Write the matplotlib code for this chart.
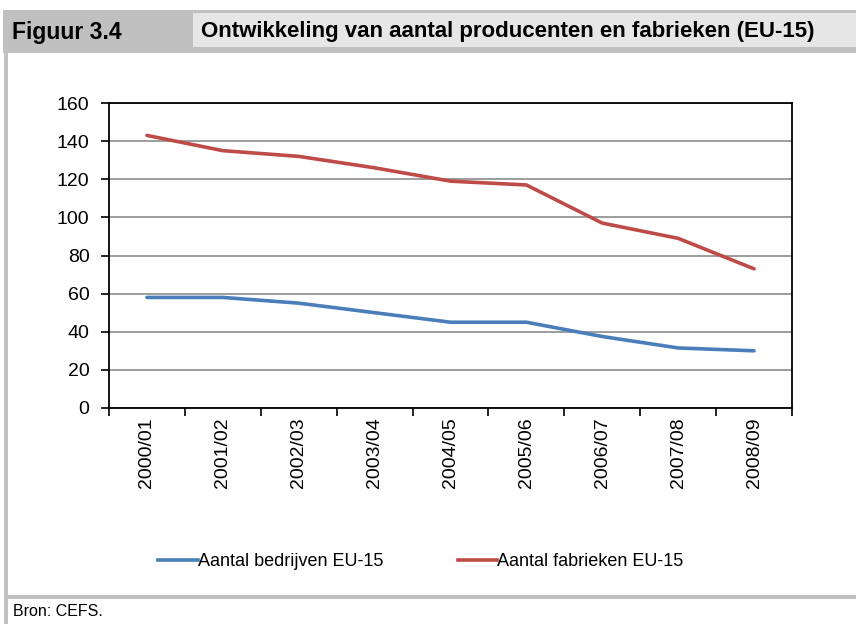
import matplotlib
matplotlib.use("Agg")
import matplotlib.pyplot as plt
from matplotlib.patches import Rectangle
from matplotlib.lines import Line2D

plt.rcParams['font.family'] = ['Liberation Sans', 'DejaVu Sans']

# data
seizoenen = ['2000/01', '2001/02', '2002/03', '2003/04', '2004/05',
             '2005/06', '2006/07', '2007/08', '2008/09']
bedrijven = [58, 58, 55, 50, 45, 45, 37.5, 31.5, 30]
fabrieken = [143, 135, 132, 126, 119, 117, 97, 89, 73]
yticks = [0, 20, 40, 60, 80, 100, 120, 140, 160]

W, H = 856, 624
fig = plt.figure(figsize=(W / 100, H / 100), dpi=100)


def px(x, y):
    # pixel (from top-left) naar figuurfractie
    return x / W, 1 - y / H


def rect(x0, y0, x1, y1, kleur):
    fx, fy = px(x0, y1)
    fig.add_artist(Rectangle((fx, fy), (x1 - x0) / W, (y1 - y0) / H,
                             transform=fig.transFigure, facecolor=kleur,
                             edgecolor='none', zorder=0))


# kader en kopregel
rect(3, 10, W, 53, '#c0c0c0')
rect(193, 13, W, 47, '#e6e6e6')
rect(4, 53, 8, 624, '#c0c0c0')
rect(4, 595, W, 599, '#c0c0c0')

fig.text(*px(12, 32), 'Figuur 3.4', fontsize=16.5, fontweight='bold', va='center', ha='left')
fig.text(*px(201, 31), 'Ontwikkeling van aantal producenten en fabrieken (EU-15)',
         fontsize=16, fontweight='bold', va='center', ha='left')
fig.text(*px(13, 612), 'Bron: CEFS.', fontsize=11.5, va='center', ha='left')

# grafiek
ax = fig.add_axes([109 / W, (H - 408) / H, (792 - 109) / W, (408 - 103) / H])
x = list(range(len(seizoenen)))
ax.plot(x, bedrijven, color='#4a7ebb', lw=2.6, solid_capstyle='round',
        solid_joinstyle='round', label='Aantal bedrijven EU-15', zorder=3)
ax.plot(x, fabrieken, color='#be4b48', lw=2.6, solid_capstyle='round',
        solid_joinstyle='round', label='Aantal fabrieken EU-15', zorder=3)

ax.set_xlim(-0.5, len(seizoenen) - 0.5)
ax.set_ylim(0, 160)
ax.set_yticks(yticks)
ax.yaxis.grid(True, color='#8c8c8c', lw=1.2)
ax.set_axisbelow(True)
ax.tick_params(axis='y', direction='out', length=6, width=1.2, labelsize=14, pad=8)

ax.set_xticks([i - 0.5 for i in range(len(seizoenen) + 1)])
ax.set_xticklabels([])
ax.tick_params(axis='x', which='major', direction='out', length=6, width=1.2)
ax.set_xticks(x, minor=True)
ax.set_xticklabels(seizoenen, minor=True, rotation=90, fontsize=14)
ax.tick_params(axis='x', which='minor', length=0, pad=7)

for s in ax.spines.values():
    s.set_linewidth(1.3)
    s.set_color('black')

handles = [Line2D([], [], color='#4a7ebb', lw=2.6),
           Line2D([], [], color='#be4b48', lw=2.6)]
fig.legend(handles, ['Aantal bedrijven EU-15', 'Aantal fabrieken EU-15'],
           loc='center', bbox_to_anchor=px(421, 562), ncol=2, frameon=False,
           fontsize=13, handlelength=2.2, handletextpad=0.0, columnspacing=4.1)

fig.savefig('out.png', dpi=100)
